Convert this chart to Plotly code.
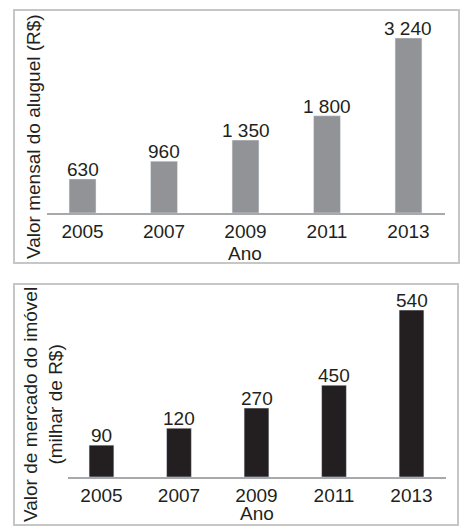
import plotly.graph_objects as go

# %% dados
anos = ["2005", "2007", "2009", "2011", "2013"]
aluguel = [630, 960, 1350, 1800, 3240]
aluguel_txt = ["630", "960", "1 350", "1 800", "3 240"]

# valor de mercado (milhar de R$) -- no original as barras não estão em escala,
# então a altura desenhada foi lida do próprio gráfico (unidades em que 2013 = 540)
mercado = [90, 120, 270, 450, 540]
mercado_altura = [103, 158, 223, 297, 540]
mercado_txt = [str(v) for v in mercado]

W, H = 474, 530
FONTE = dict(family="Liberation Sans, Arial, sans-serif", size=19, color="#231f20")


def px(x):
    return x / W


def py(y):
    return 1 - y / H


# %%
fig = go.Figure()
fig.add_trace(go.Bar(
    x=anos, y=aluguel, marker_color="#929396", width=0.33,
    xaxis="x", yaxis="y", hoverinfo="skip",
))
fig.add_trace(go.Bar(
    x=anos, y=mercado_altura, marker_color="#231f20", width=0.32,
    xaxis="x2", yaxis="y2", hoverinfo="skip",
))

# rótulos em cima das barras (x = índice da categoria no eixo)
rotulos = []
for i, (v, t) in enumerate(zip(aluguel, aluguel_txt)):
    rotulos.append(dict(text=t, x=i, y=v, xref="x", yref="y", yanchor="bottom",
                        yshift=-3, showarrow=False, font=FONTE))
for i, (v, t) in enumerate(zip(mercado_altura, mercado_txt)):
    rotulos.append(dict(text=t, x=i, y=v, xref="x2", yref="y2", yanchor="bottom",
                        yshift=-3, showarrow=False, font=FONTE))

eixo_x = dict(type="category", showline=True, linecolor="#a7a9ac", linewidth=1.5,
              ticks="", showgrid=False, zeroline=False, tickfont=FONTE,
              ticklabelstandoff=0, fixedrange=True, automargin=False)
eixo_y = dict(visible=False, showgrid=False, zeroline=False, fixedrange=True,
              automargin=False)

fig.update_layout(
    width=W, height=H,
    margin=dict(l=0, r=0, t=0, b=0),
    paper_bgcolor="white", plot_bgcolor="white",
    showlegend=False,
    font=FONTE,
    xaxis=dict(eixo_x, domain=[px(47), px(445)], range=[-0.436, 4.448], anchor="y"),
    yaxis=dict(eixo_y, domain=[py(213), py(15)], range=[0, 3666], anchor="x"),
    xaxis2=dict(eixo_x, domain=[px(68), px(446)], range=[-0.432, 4.445], anchor="y2"),
    yaxis2=dict(eixo_y, domain=[py(477), py(290)], range=[0, 605], anchor="x2"),
    shapes=[
        dict(type="rect", xref="paper", yref="paper",
             x0=px(14), x1=px(459), y0=py(263), y1=py(10),
             line=dict(color="#c6c6c6", width=2)),
        dict(type="rect", xref="paper", yref="paper",
             x0=px(14), x1=px(458), y0=py(525), y1=py(284),
             line=dict(color="#c6c6c6", width=2)),
    ],
    annotations=rotulos + [
        dict(text="Valor mensal do aluguel (R$)", textangle=-90,
             xref="paper", yref="paper", x=px(33), y=py(137),
             xanchor="center", yanchor="middle", showarrow=False, font=FONTE),
        dict(text="Ano", xref="paper", yref="paper", x=px(245), y=py(253),
             xanchor="center", yanchor="middle", showarrow=False, font=FONTE),
        dict(text="Valor de mercado do imóvel<br>(milhar de R$)", textangle=-90,
             xref="paper", yref="paper", x=px(43), y=py(405),
             xanchor="center", yanchor="middle", showarrow=False, font=FONTE),
        dict(text="Ano", xref="paper", yref="paper", x=px(257), y=py(513),
             xanchor="center", yanchor="middle", showarrow=False, font=FONTE),
    ],
)

# tira a margem padrão do body para a figura ocupar a janela inteira
fig.write_html("out.html", config={"displayModeBar": False},
               post_script="document.body.style.margin='0';")
